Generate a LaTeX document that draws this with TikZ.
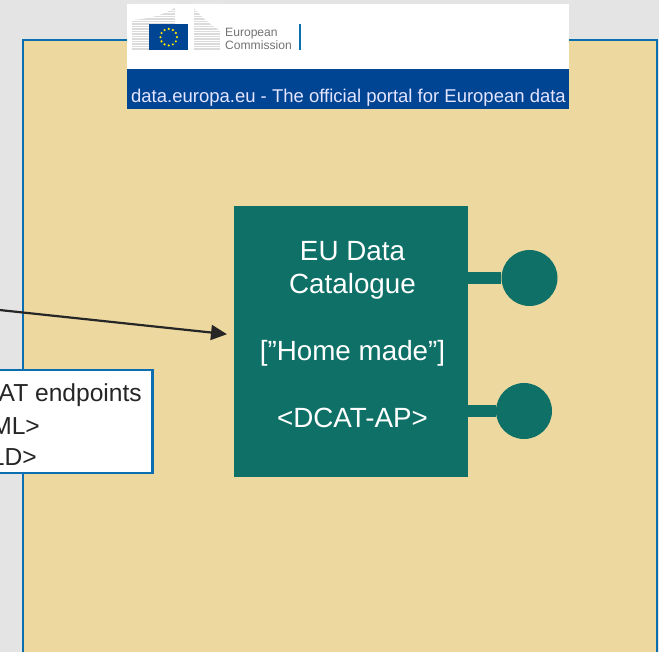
\documentclass[tikz,border=0pt]{standalone}
\usepackage{fontspec}
\usetikzlibrary{arrows.meta}
\setmainfont{Liberation Sans}
\definecolor{bgc}{HTML}{E4E4E4}
\definecolor{sand}{HTML}{EDD9A0}
\definecolor{edgeblue}{HTML}{0A6EB0}
\definecolor{teal}{HTML}{0E7066}
\definecolor{eublue}{HTML}{004494}
\definecolor{dark}{HTML}{262626}
\tikzset{
  bigtext/.style={text=white,font=\fontsize{27.8}{33.4}\selectfont,align=center,inner sep=0pt},
  porta/.style={circle,fill=teal,minimum size=56pt,inner sep=0pt},
  link/.style={draw=teal,line width=12.5pt},
  boxtext/.style={text=dark,font=\fontsize{24.6}{28}\selectfont,inner sep=0pt,anchor=base east},
  stripe/.style={draw=gray!28,line width=1.2pt},
}
\begin{document}
\begin{tikzpicture}[x=1pt,y=-1pt]
\useasboundingbox (0,0) rectangle (659,652);
\clip (0,0) rectangle (659,652);
\fill[bgc] (0,0) rectangle (659,652);
\node[draw=edgeblue,fill=sand,line width=2.5pt,outer sep=0pt,minimum width=634pt,minimum height=640pt,inner sep=0pt,anchor=north west] (frame) at (23,40) {};
% header
\node[fill=white,minimum width=442pt,minimum height=65pt,inner sep=0pt,anchor=north west] (head) at (127,4) {};
\node[fill=eublue,minimum width=442pt,minimum height=40pt,inner sep=0pt,anchor=north west] (band) at (127,69) {};
\node[text=white!90!blue,font=\fontsize{18.5}{20}\selectfont,inner sep=0pt,anchor=base] (portal) at (348.5,103) {data.europa.eu - The official portal for European data};
% logo
\foreach \y in {9,11.5,...,50} {\draw[stripe] (132,\y) -- (175,\y);}
\fill[white] (131,4) -- (176,4) -- (176,7) .. controls (165,14) and (150,19) .. (131,20) -- cycle;
\foreach \y in {9,11.5,...,50} {\draw[stripe] (194,\y) -- (220,\y);}
\fill[white] (193,4) -- (221,4) -- (221,31) .. controls (210,25) and (200,15) .. (193,7) -- cycle;
\node[fill=eublue,minimum width=39pt,minimum height=26pt,inner sep=0pt,anchor=north west] (flag) at (149,24) {};
\foreach \a in {0,30,...,330} {\fill[yellow!90!orange] (flag.center) ++(\a:8.3) circle (1.2);}
\node[text=gray!90!black,font=\fontsize{12.1}{13}\selectfont,align=left,inner sep=0pt,anchor=west] (ec) at (225,39) {European\\Commission};
\node[fill=edgeblue,minimum width=2pt,minimum height=26pt,inner sep=0pt] (ecbar) at (299.5,37) {};
% main block
\node[porta] (p1) at (529.5,278) {};
\node[porta] (p2) at (524,411) {};
\node[fill=teal,minimum width=234pt,minimum height=271pt,inner sep=0pt,anchor=north west] (eu) at (234,206) {};
\draw[link] (eu.east |- p1) -- (p1);
\draw[link] (eu.east |- p2) -- (p2);
\node[bigtext] (eutext) at (352.5,334.5) {EU Data\\Catalogue\\[33.4pt]{[}”Home made”{]}\\[33.4pt]<DCAT-AP>};
% endpoints box
\node[draw=edgeblue,fill=white,line width=2.5pt,outer sep=0pt,minimum width=192pt,minimum height=103pt,inner sep=0pt,anchor=north east] (ep) at (152.5,370) {};
\node[boxtext] (ep1) at (142,402) {AT endpoints};
\node[boxtext] (ep2) at (40,434) {ML>};
\node[boxtext] (ep3) at (37,465) {LD>};
% arrow
\coordinate (src) at (-10,309);
\coordinate (tip) at (227,334.2);
\draw[dark,line width=2.2pt,-{Triangle[length=16pt,width=15pt]}] (src) -- (tip);
\end{tikzpicture}
\end{document}
